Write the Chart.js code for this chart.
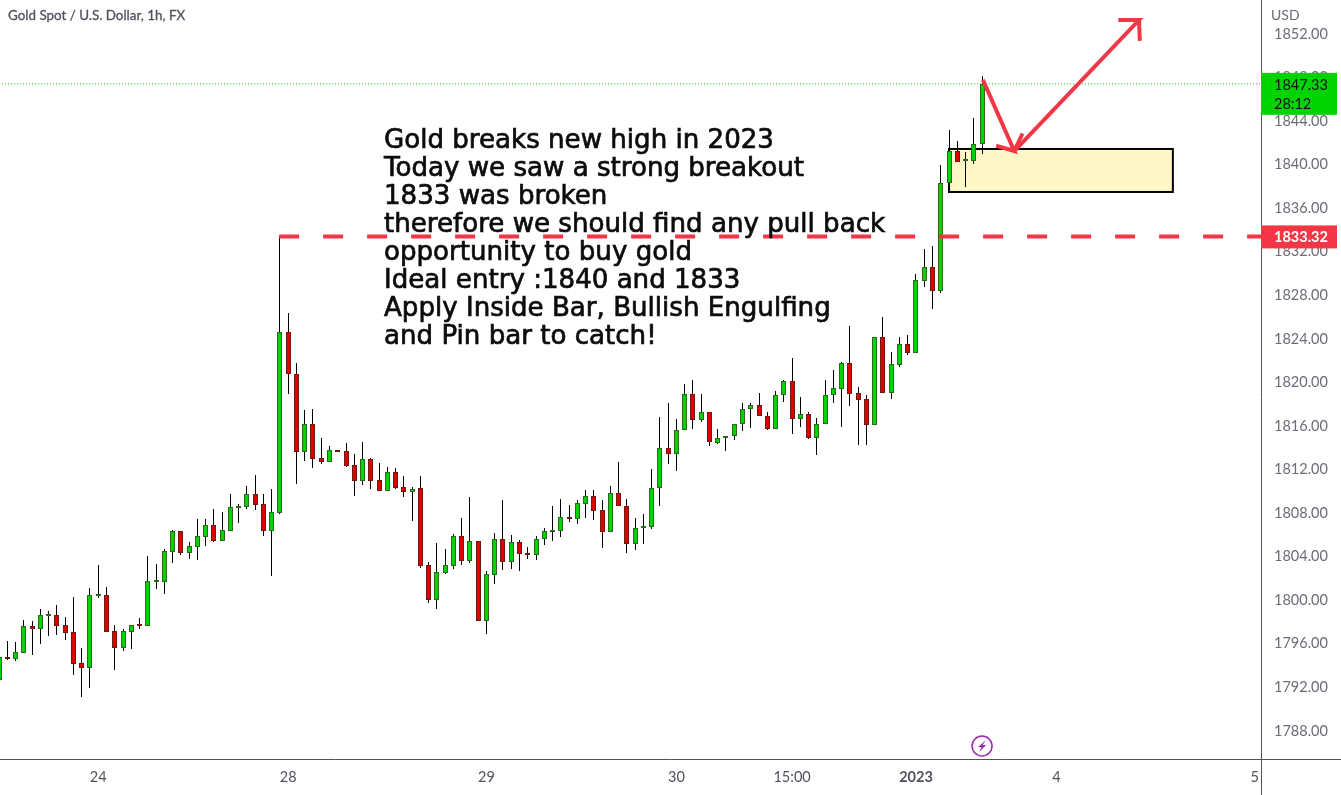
<!DOCTYPE html>
<html>
<head>
<meta charset="utf-8">
<title>Gold Spot / U.S. Dollar</title>
<script src="https://cdn.jsdelivr.net/npm/chart.js@4"></script>
<style>
  html, body { margin: 0; padding: 0; background: #fff; overflow: hidden; }
  canvas { display: block; }
</style>
</head>
<body>
<canvas id="myChart" width="1341" height="795"></canvas>
<script>
// candles, index 0 is the cut off one on the left
const opens = [
  1792.59,1794.67,1794.54,1795.09,1797.51,1797.30,1798.49,1798.52,1797.60,1796.96,
  1794.11,1793.72,1800.30,1800.36,1797.05,1795.55,1797.02,1797.64,1797.57,1801.61,
  1801.61,1804.37,1806.24,1804.28,1804.83,1805.75,1806.79,1805.38,1806.30,1808.41,
  1808.50,1809.63,1808.72,1806.30,1807.95,1824.51,1820.65,1813.55,1816.06,1812.94,
  1812.63,1813.64,1813.58,1812.30,1810.89,1812.85,1810.92,1809.97,1811.66,1810.28,
  1809.88,1810.19,1803.12,1799.96,1802.44,1803.08,1805.78,1803.54,1805.32,1798.03,
  1802.26,1805.50,1803.45,1805.23,1804.22,1804.10,1805.50,1806.21,1806.30,1807.52,
  1807.40,1808.78,1809.45,1808.17,1806.15,1809.73,1808.53,1805.11,1806.51,1806.67,
  1810.19,1813.86,1813.37,1815.51,1818.82,1816.43,1817.16,1814.38,1814.78,1814.96,
  1816.06,1817.44,1817.81,1816.80,1815.66,1818.73,1820.01,1816.58,1816.98,1814.84,
  1816.06,1818.73,1819.34,1821.67,1818.91,1818.36,1816.03,1824.05,1818.97,1821.54,
  1823.41,1822.65,1829.26,1830.48,1828.34,1838.19,1841.13,1840.21,1840.28,1841.78
];
const highs = [
  1795.10,1796.17,1796.07,1798.09,1798.00,1799.07,1798.92,1799.47,1798.37,1800.21,
  1795.52,1801.03,1803.14,1801.12,1797.64,1797.27,1797.60,1798.28,1803.97,1803.24,
  1804.58,1806.36,1806.24,1805.26,1807.37,1807.37,1808.29,1808.01,1809.66,1808.75,
  1810.40,1811.41,1809.66,1810.12,1833.32,1826.29,1821.66,1817.35,1817.47,1814.81,
  1814.07,1813.64,1814.32,1813.34,1814.44,1812.94,1812.51,1812.14,1812.05,1811.32,
  1810.31,1811.32,1803.39,1805.17,1804.62,1805.99,1807.46,1809.39,1805.32,1802.56,
  1806.05,1809.08,1805.87,1805.41,1804.77,1805.78,1806.51,1808.53,1809.18,1808.63,
  1809.08,1810.00,1810.00,1809.08,1810.37,1812.64,1809.18,1807.43,1807.80,1811.96,
  1816.74,1818.02,1816.52,1819.77,1820.13,1818.85,1817.16,1815.60,1814.96,1816.06,
  1817.99,1817.99,1818.91,1817.16,1819.09,1820.10,1822.16,1818.54,1817.16,1816.61,
  1820.13,1821.05,1821.79,1825.09,1819.49,1818.73,1824.05,1825.92,1822.71,1824.08,
  1824.27,1829.84,1832.13,1832.44,1839.88,1843.09,1842.08,1841.07,1844.19,1848.05
];
const lows = [
  1792.30,1794.42,1794.33,1795.09,1794.88,1795.89,1796.62,1796.72,1796.26,1793.04,
  1791.02,1791.85,1800.11,1797.02,1793.50,1795.25,1795.43,1797.27,1797.57,1800.94,
  1800.48,1803.33,1804.06,1803.70,1803.60,1804.89,1805.26,1805.38,1806.30,1807.00,
  1808.29,1808.20,1805.81,1802.13,1807.86,1818.85,1810.61,1812.73,1812.08,1812.45,
  1812.63,1813.55,1812.18,1809.51,1810.52,1810.16,1809.97,1809.97,1810.16,1809.42,
  1807.22,1802.90,1799.69,1799.14,1802.35,1802.81,1803.18,1803.36,1798.03,1796.84,
  1801.43,1802.72,1802.81,1802.63,1803.73,1803.64,1805.01,1805.38,1805.75,1807.13,
  1806.94,1807.49,1807.31,1804.74,1806.15,1808.53,1804.28,1804.55,1805.11,1806.48,
  1808.59,1812.45,1811.81,1815.51,1815.66,1816.31,1814.10,1814.29,1813.64,1814.65,
  1815.48,1815.76,1816.80,1815.57,1815.66,1818.14,1815.21,1815.85,1814.75,1813.28,
  1816.06,1818.05,1815.85,1817.78,1814.20,1814.20,1816.03,1818.91,1818.42,1821.36,
  1822.46,1822.65,1828.68,1826.65,1828.15,1838.19,1840.18,1837.89,1840.00,1840.92
];
const closes = [
  1794.73,1794.51,1795.13,1797.51,1797.30,1798.52,1798.55,1797.57,1796.93,1794.08,
  1793.72,1800.36,1800.39,1797.02,1795.55,1797.05,1797.60,1797.57,1801.64,1801.68,
  1804.40,1806.24,1804.28,1804.86,1805.78,1806.79,1805.38,1806.33,1808.44,1808.53,
  1809.63,1808.68,1806.30,1807.98,1824.51,1820.65,1813.55,1816.06,1812.91,1812.63,
  1813.68,1813.55,1812.27,1810.89,1812.85,1810.89,1809.97,1811.66,1810.25,1809.88,
  1810.16,1803.08,1799.96,1802.47,1803.12,1805.78,1803.54,1805.32,1798.03,1802.29,
  1805.50,1803.45,1805.23,1804.19,1804.10,1805.50,1806.24,1806.33,1807.52,1807.40,
  1808.81,1809.45,1808.14,1806.15,1809.73,1808.53,1805.11,1806.51,1806.70,1810.19,
  1813.86,1813.37,1815.51,1818.82,1816.43,1817.16,1814.41,1814.78,1814.96,1816.06,
  1817.44,1817.81,1816.80,1815.66,1818.73,1820.01,1816.58,1816.98,1814.84,1816.06,
  1818.73,1819.37,1821.67,1818.88,1818.33,1816.03,1824.05,1818.91,1821.57,1823.41,
  1822.65,1829.29,1830.48,1828.34,1838.19,1841.13,1840.18,1840.34,1841.78,1847.33
];

// x axis labels and the bar index they sit under
const tickLabels = ["24", "28", "29", "30", "15:00", "2023", "4", "5"];
const tickIndex = [12, 35, 59, 82, 96, 111, 128, 152];

const lastPrice = 1847.33;
const breakLevel = 1833.32;
const breakStart = 33.9;

// drawn shapes, in bar index / price
const arrowDownX = [119.1, 122.9, 120.7, 122.9, 123.9];
const arrowDownY = [1847.7, 1841.16, 1841.65, 1841.16, 1842.77];
const arrowUpX = [122.9, 138.0, 135.5, 138.0, 138.1];
const arrowUpY = [1841.16, 1853.19, 1853.19, 1853.19, 1851.27];
const zoneX = [115, 142.1];
const zoneY = [1841.35, 1837.4];

const noteLines = [
  "Gold breaks new high in 2023",
  "Today we saw a strong breakout",
  "1833 was broken",
  "therefore we should find any pull back",
  "opportunity to buy gold",
  "Ideal entry :1840 and 1833",
  "Apply Inside Bar, Bullish Engulfing",
  "and Pin bar to catch!"
];

const green = "#00d400";
const red = "#e00000";
const greenEdge = "#2b6a1c";
const redEdge = "#6f1a10";
const alertRed = "#f23645";
const axisFont = "Lato, 'Open Sans', sans-serif";
const axisColor = "#50535e";

const wickData = lows.map((l, i) => ({ x: i, y: [l, highs[i]] }));
const bodyData = opens.map((o, i) => ({ x: i, y: [o, closes[i]] }));
const isUp = closes.map((c, i) => c >= opens[i]);
const toPoints = (xs, ys) => xs.map((x, i) => ({ x: x, y: ys[i] }));

const overlay = {
  id: "overlay",
  beforeDatasetsDraw(chart) {
    const { ctx, scales } = chart;

    // snap the bars to whole pixels so wicks and edges stay crisp
    [0, 1].forEach((d) => {
      chart.getDatasetMeta(d).data.forEach((bar) => {
        const top = Math.round(bar.y);
        let bottom = Math.round(bar.base);
        if (d === 1 && bottom - top < 2) bottom = top + 2;
        bar.x = Math.floor(bar.x) + 0.5;
        bar.y = top;
        bar.base = bottom;
        bar.height = bottom - top;
      });
    });

    const x1 = scales.x.getPixelForValue(zoneX[0]);
    const x2 = scales.x.getPixelForValue(zoneX[1]);
    const y1 = scales.y.getPixelForValue(zoneY[0]);
    const y2 = scales.y.getPixelForValue(zoneY[1]);
    ctx.save();
    ctx.fillStyle = "#fff8c6";
    ctx.strokeStyle = "#000";
    ctx.lineWidth = 2;
    ctx.fillRect(x1, y1, x2 - x1, y2 - y1);
    ctx.strokeRect(x1, y1, x2 - x1, y2 - y1);
    ctx.restore();
  },
  afterDatasetsDraw(chart) {
    const { ctx, chartArea, scales } = chart;
    ctx.save();

    // note text
    ctx.fillStyle = "#0c0c0c";
    ctx.strokeStyle = "#0c0c0c";
    ctx.lineWidth = 0.7;
    ctx.font = "26.1px 'DejaVu Sans'";
    ctx.textBaseline = "middle";
    ctx.textAlign = "left";
    noteLines.forEach((line, i) => {
      ctx.fillText(line, 384, 141 + i * 28);
      ctx.strokeText(line, 384, 141 + i * 28);
    });

    // chart title and currency
    ctx.font = "13.4px " + axisFont;
    ctx.fillStyle = axisColor;
    ctx.strokeStyle = axisColor;
    ctx.lineWidth = 0.3;
    ctx.fillText("Gold Spot / U.S. Dollar, 1h, FX", 8, 16);
    ctx.strokeText("Gold Spot / U.S. Dollar, 1h, FX", 8, 16);
    ctx.font = "14px " + axisFont;
    ctx.fillStyle = "#6a6d78";
    ctx.fillText("USD", 1271, 15);

    // axis lines run to the edges of the page
    ctx.strokeStyle = axisColor;
    ctx.lineWidth = 1;
    ctx.beginPath();
    ctx.moveTo(chartArea.right + 0.5, 0);
    ctx.lineTo(chartArea.right + 0.5, 795);
    ctx.moveTo(0, chartArea.bottom + 0.5);
    ctx.lineTo(1341, chartArea.bottom + 0.5);
    ctx.stroke();

    // price tags
    const lastY = scales.y.getPixelForValue(lastPrice);
    const breakY = scales.y.getPixelForValue(breakLevel);
    ctx.fillStyle = green;
    ctx.fillRect(chartArea.right, lastY - 11, 76, 42);
    ctx.fillStyle = "#111";
    ctx.font = "14.5px " + axisFont;
    ctx.fillText(lastPrice.toFixed(2), 1274, lastY + 1);
    ctx.fillText("28:12", 1274, lastY + 20);
    ctx.fillStyle = alertRed;
    ctx.fillRect(chartArea.right, breakY - 11, 76, 23);
    ctx.fillStyle = "#fff";
    ctx.font = "bold 14.5px " + axisFont;
    ctx.fillText(breakLevel.toFixed(2), 1274, breakY + 1);

    // dividends style marker above the time axis
    const mx = scales.x.getPixelForValue(119);
    const my = 746;
    ctx.strokeStyle = "#9c27b0";
    ctx.lineWidth = 1.5;
    ctx.beginPath();
    ctx.arc(mx, my, 10, 0, Math.PI * 2);
    ctx.stroke();
    ctx.fillStyle = "#9c27b0";
    ctx.beginPath();
    ctx.moveTo(mx + 4, my - 6);
    ctx.lineTo(mx - 4, my + 1);
    ctx.lineTo(mx - 0.5, my + 1);
    ctx.lineTo(mx - 3, my + 6);
    ctx.lineTo(mx + 4, my - 1);
    ctx.lineTo(mx + 0.5, my - 1);
    ctx.closePath();
    ctx.fill();
    ctx.restore();
  }
};

const ctx = document.getElementById("myChart").getContext("2d");
new Chart(ctx, {
  type: "bar",
  data: {
    datasets: [
      {
        label: "wick",
        data: wickData,
        backgroundColor: "#000",
        barThickness: 1,
        inflateAmount: 0,
        grouped: false,
        order: 5
      },
      {
        label: "body",
        data: bodyData,
        backgroundColor: isUp.map((u) => (u ? green : red)),
        borderColor: isUp.map((u) => (u ? greenEdge : redEdge)),
        borderWidth: 1,
        borderSkipped: false,
        barThickness: 5,
        minBarLength: 2,
        inflateAmount: 0,
        grouped: false,
        order: 4
      },
      {
        type: "line",
        label: "last",
        data: toPoints([0, 152.77], [lastPrice, lastPrice]),
        borderColor: green,
        borderWidth: 1,
        borderDash: [1, 2],
        pointRadius: 0,
        order: 6
      },
      {
        type: "line",
        label: "break",
        data: toPoints([breakStart, 152.77], [breakLevel, breakLevel]),
        borderColor: alertRed,
        borderWidth: 4,
        borderDash: [20, 24],
        pointRadius: 0,
        order: 3
      },
      {
        type: "line",
        label: "down",
        data: toPoints(arrowDownX, arrowDownY),
        borderColor: alertRed,
        borderWidth: 4,
        pointRadius: 0,
        order: 1
      },
      {
        type: "line",
        label: "up",
        data: toPoints(arrowUpX, arrowUpY),
        borderColor: alertRed,
        borderWidth: 4,
        pointRadius: 0,
        order: 2
      }
    ]
  },
  options: {
    responsive: false,
    animation: false,
    events: [],
    layout: { padding: 0 },
    plugins: {
      legend: { display: false },
      tooltip: { enabled: false }
    },
    scales: {
      x: {
        type: "linear",
        offset: false,
        min: 0.109,
        max: 152.77,
        grid: { display: false, drawTicks: false },
        border: { display: false },
        afterFit(scale) {
          scale.height = 36;
          scale.paddingLeft = 0;
          scale.paddingRight = 0;
        },
        afterBuildTicks(scale) {
          scale.ticks = tickIndex.map((v) => ({ value: v }));
        },
        ticks: {
          autoSkip: false,
          maxRotation: 0,
          padding: 10,
          color: "#50535e",
          font: (c) => ({
            family: axisFont,
            size: 14.5,
            weight: c.tick && c.tick.value === 111 ? "bold" : "normal"
          }),
          callback: (v) => tickLabels[tickIndex.indexOf(v)]
        }
      },
      y: {
        position: "right",
        min: 1785.33,
        max: 1855.03,
        grid: { display: false, drawTicks: false },
        border: { display: false },
        afterFit(scale) {
          scale.width = 80;
          scale.paddingTop = 0;
          scale.paddingBottom = 0;
        },
        ticks: {
          stepSize: 4,
          padding: 13,
          labelOffset: 1,
          includeBounds: false,
          color: "#6a6d78",
          font: { family: axisFont, size: 14.5 },
          callback: (v) => v.toFixed(2)
        }
      }
    }
  },
  plugins: [overlay]
});
</script>
</body>
</html>
